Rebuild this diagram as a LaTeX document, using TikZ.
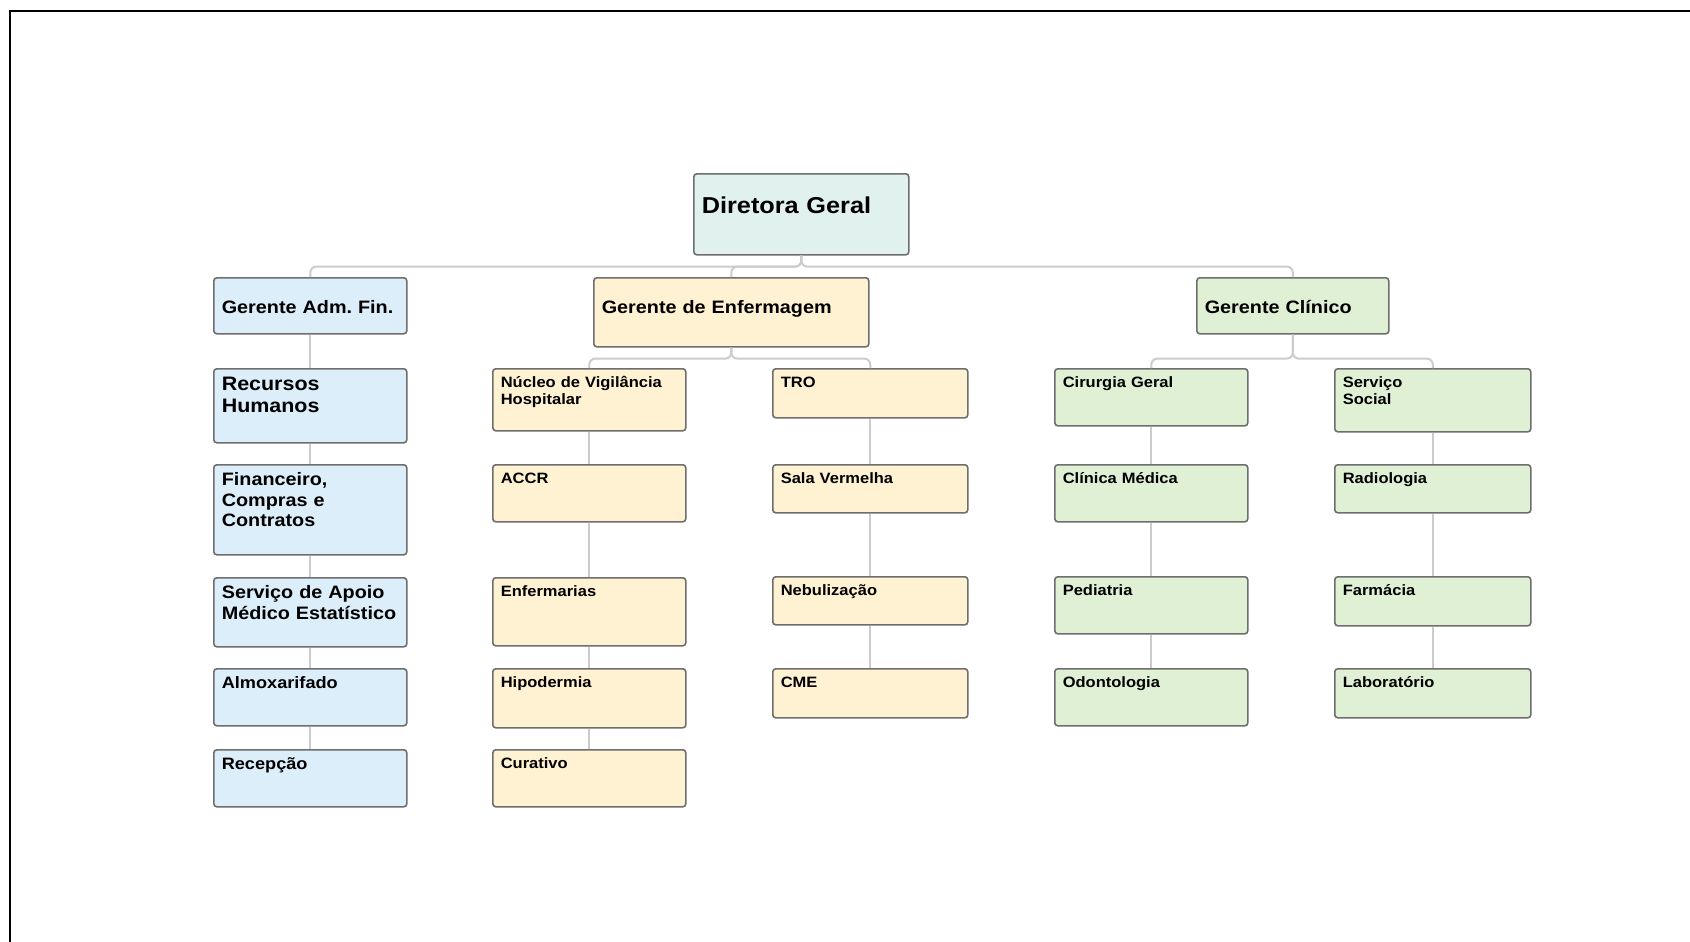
\documentclass[tikz,border=0pt]{standalone}
\usepackage{fontspec}
\setmainfont[FakeStretch=1.1]{Liberation Sans}
\frenchspacing
\definecolor{cblue}{HTML}{DCEEF9}
\definecolor{cyel}{HTML}{FFF2D2}
\definecolor{cgreen}{HTML}{E0F0D5}
\definecolor{cteal}{HTML}{E1F1EE}
\definecolor{bordc}{HTML}{6E6E6E}
\definecolor{lineg}{HTML}{CCCCCC}
\tikzset{
  box/.style={draw=bordc, line width=1.6pt, rounded corners=3pt, inner xsep=8pt, inner ysep=0pt, align=left, anchor=north west},
  wb/.style n args={3}{text width=#1pt, text height=#2pt, text depth=#3pt},
  fdir/.style={font=\bfseries\fontsize{23}{26}\selectfont},
  fhuge/.style={font=\bfseries\fontsize{19.5}{22}\selectfont},
  fbig/.style={font=\bfseries\fontsize{18}{20.5}\selectfont},
  fmid/.style={font=\bfseries\fontsize{16.5}{19}\selectfont},
  fsml/.style={font=\bfseries\fontsize{15}{16.5}\selectfont},
  bl/.style={box, fill=cblue},
  ye/.style={box, fill=cyel},
  gr/.style={box, fill=cgreen},
  connector/.style={draw=lineg, line width=2pt, rounded corners=6pt},
}
\begin{document}
\begin{tikzpicture}[x=1pt, y=-1pt]
\useasboundingbox (0,0) rectangle (1690,942);
\fill[white] (0,0) rectangle (1690,942);
\draw[line width=2.5pt, black] (10,942) -- (10,11) -- (1690,11);

% top
\node[box, fill=cteal, fdir, wb={199}{40}{41}] (dg) at (693,173) {Diretora Geral};
% managers
\node[bl, fbig, wb={177}{36}{20}] (adm) at (213,277) {Gerente Adm. Fin.};
\node[ye, fbig, wb={259}{36}{33}] (enf) at (593,277) {Gerente de Enfermagem};
\node[gr, fbig, wb={176}{36}{20}] (cli) at (1196,277) {Gerente Clínico};

% blue column
\node[bl, fhuge, wb={177}{22}{52}] (rh) at (213,368) {Recursos\\Humanos};
\node[bl, fbig, wb={177}{21}{69}] (fin) at (213,464) {Financeiro,\\Compras e\\Contratos};
\node[bl, fbig, wb={177}{21}{48}] (sae) at (213,577) {Serviço de Apoio\\Médico Estatístico};
\node[bl, fmid, wb={177}{20}{37}] (alm) at (213,668) {Almoxarifado};
\node[bl, fmid, wb={177}{20}{37}] (rec) at (213,749) {Recepção};

% yellow column 1
\node[ye, fsml, wb={177}{19}{43}] (nuc) at (492,368) {Núcleo de Vigilância\\Hospitalar};
\node[ye, fsml, wb={177}{19}{38}] (accr) at (492,464) {ACCR};
\node[ye, fsml, wb={177}{19}{49}] (enfm) at (492,577) {Enfermarias};
\node[ye, fsml, wb={177}{19}{40}] (hipo) at (492,668) {Hipodermia};
\node[ye, fsml, wb={177}{19}{38}] (cur) at (492,749) {Curativo};

% yellow column 2
\node[ye, fsml, wb={179}{19}{30}] (tro) at (772,368) {TRO};
\node[ye, fsml, wb={179}{19}{29}] (sala) at (772,464) {Sala Vermelha};
\node[ye, fsml, wb={179}{19}{29}] (neb) at (772,576) {Nebulização};
\node[ye, fsml, wb={179}{19}{30}] (cme) at (772,668) {CME};

% green column 1
\node[gr, fsml, wb={177}{19}{38}] (cir) at (1054,368) {Cirurgia Geral};
\node[gr, fsml, wb={177}{19}{38}] (clin) at (1054,464) {Clínica Médica};
\node[gr, fsml, wb={177}{19}{38}] (ped) at (1054,576) {Pediatria};
\node[gr, fsml, wb={177}{19}{38}] (odo) at (1054,668) {Odontologia};

% green column 2
\node[gr, fsml, wb={180}{19}{44}] (ss) at (1334,368) {Serviço\\Social};
\node[gr, fsml, wb={180}{19}{29}] (rad) at (1334,464) {Radiologia};
\node[gr, fsml, wb={180}{19}{30}] (farm) at (1334,576) {Farmácia};
\node[gr, fsml, wb={180}{19}{30}] (lab) at (1334,668) {Laboratório};

% tree connectors
\draw[connector] (dg.south) -- ++(0,11) -| (adm.north);
\draw[connector] (dg.south) -- ++(0,11) -| (enf.north);
\draw[connector] (dg.south) -- ++(0,11) -| (cli.north);
\draw[connector] (enf.south) -- ++(0,11) -| (nuc.north);
\draw[connector] (enf.south) -- ++(0,11) -| (tro.north);
\draw[connector] (cli.south) -- ++(0,24) -| (cir.north);
\draw[connector] (cli.south) -- ++(0,24) -| (ss.north);

% chains
\draw[connector] (adm) -- (rh);
\draw[connector] (rh) -- (fin);
\draw[connector] (fin) -- (sae);
\draw[connector] (sae) -- (alm);
\draw[connector] (alm) -- (rec);
\draw[connector] (nuc) -- (accr);
\draw[connector] (accr) -- (enfm);
\draw[connector] (enfm) -- (hipo);
\draw[connector] (hipo) -- (cur);
\draw[connector] (tro) -- (sala);
\draw[connector] (sala) -- (neb);
\draw[connector] (neb) -- (cme);
\draw[connector] (cir) -- (clin);
\draw[connector] (clin) -- (ped);
\draw[connector] (ped) -- (odo);
\draw[connector] (ss) -- (rad);
\draw[connector] (rad) -- (farm);
\draw[connector] (farm) -- (lab);
\end{tikzpicture}
\end{document}
